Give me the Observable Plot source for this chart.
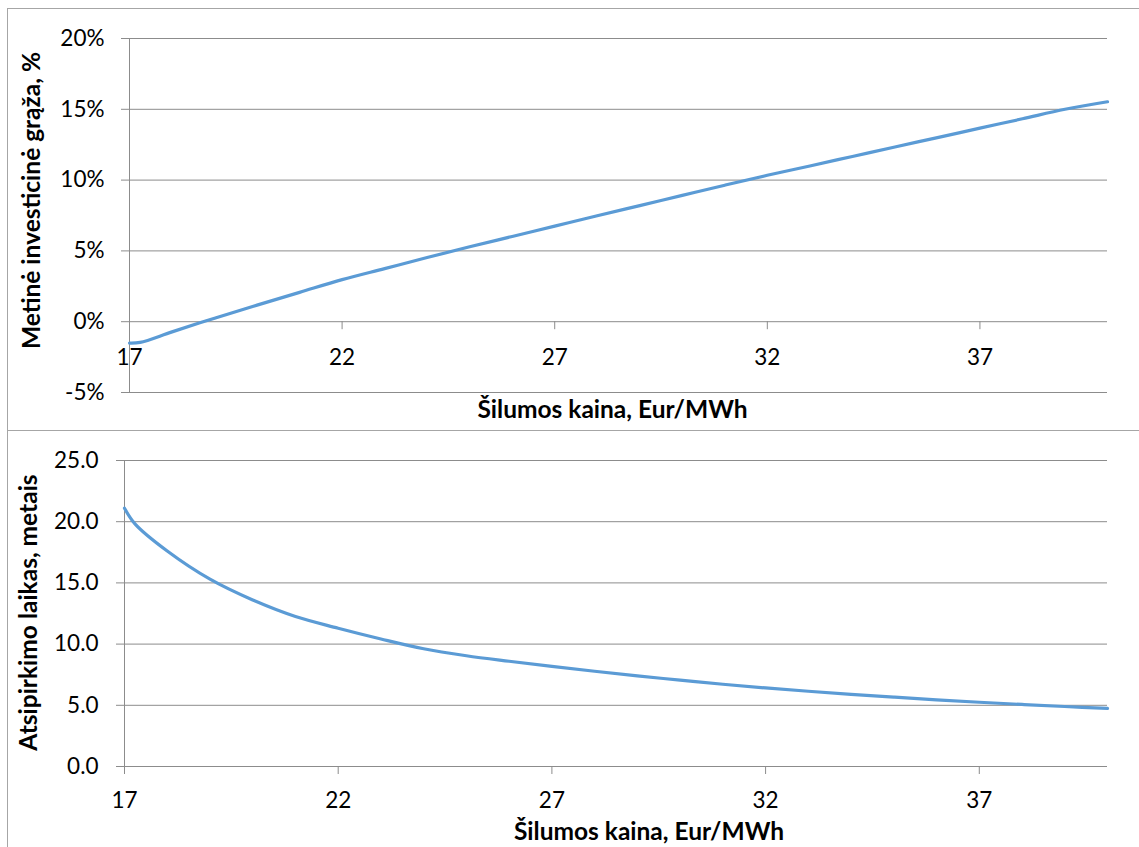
<!DOCTYPE html>
<html>
<head>
<meta charset="utf-8">
<script src="https://cdn.jsdelivr.net/npm/d3@7"></script>
<script src="https://cdn.jsdelivr.net/npm/@observablehq/plot@0.6"></script>
<style>
  body { margin: 0; background: #fff; }
  #page { position: relative; width: 1139px; height: 847px; overflow: hidden; background: #fff; font-family: Lato, "Open Sans", sans-serif; }
  .chart { position: absolute; left: 0; }
  .chart svg { background: transparent !important; }
  .panel { position: absolute; border: 1px solid #a6a6a6; box-sizing: border-box; pointer-events: none; }
</style>
</head>
<body>
<div id="page">
  <div id="irrChart" class="chart" style="top:0px"></div>
  <div id="paybackChart" class="chart" style="top:430px"></div>
  <div class="panel" style="left:7px; top:8px; width:1140px; height:423px"></div>
  <div class="panel" style="left:7px; top:430px; width:1140px; height:430px"></div>
</div>
<script>
// Heat price, Eur/MWh
const price = [17, 17.25, 18, 19, 20, 21, 22, 23, 24, 25, 26, 27, 28, 29, 30, 31, 32, 33, 34, 35, 36, 37, 38, 39, 40];
// Annual investment return, %
const annualReturn = [-1.51, -1.46, -0.72, 0.25, 1.17, 2.07, 2.97, 3.75, 4.53, 5.29, 6.02, 6.75, 7.48, 8.2, 8.92, 9.64, 10.34, 11.0, 11.67, 12.34, 13.0, 13.67, 14.33, 15.0, 15.53];
// Payback period, years
const payback = [21.1, 19.8, 17.6, 15.3, 13.6, 12.25, 11.3, 10.42, 9.62, 9.05, 8.6, 8.18, 7.78, 7.4, 7.06, 6.72, 6.42, 6.15, 5.9, 5.67, 5.45, 5.25, 5.07, 4.9, 4.75];

const xTicks = [17, 22, 27, 32, 37];
const returnTicks = [-5, 0, 5, 10, 15, 20];
const paybackTicks = [0, 5, 10, 15, 20, 25];

const xTitle = "Šilumos kaina, Eur/MWh";
const returnTitle = "Metinė investicinė grąža, %";
const paybackTitle = "Atsipirkimo laikas, metais";

const lineColor = "#5b9bd5";
const gridColor = "#8c8c8c";
const font = "Lato, 'Open Sans', sans-serif";

const returnRows = price.map((p, i) => ({price: p, value: annualReturn[i]}));
const paybackRows = price.map((p, i) => ({price: p, value: payback[i]}));

function panel({rows, yDomain, yTicks, yFormat, yTitle, height, margin, tickLabelDy, tickLabelDx, xTitleDx, xTitleDy, yTitleDx, yTitleDy, xAxisAt}) {
  return Plot.plot({
    width: 1139,
    height,
    marginLeft: margin.left,
    marginRight: margin.right,
    marginTop: margin.top,
    marginBottom: margin.bottom,
    style: {fontFamily: font, fontSize: "22px", color: "#000", background: "transparent"},
    x: {domain: [17, 40], axis: null},
    y: {domain: yDomain, axis: null},
    marks: [
      // horizontal gridlines, extended left as tick marks
      Plot.ruleY(yTicks, {stroke: gridColor, strokeWidth: 1, insetLeft: -8}),
      // vertical axis line
      Plot.ruleX([17], {stroke: gridColor, strokeWidth: 1}),
      // category axis tick marks on the zero line
      Plot.ruleX(xTicks, {x: d => d, y1: xAxisAt, y2: xAxisAt, insetBottom: -8, stroke: gridColor, strokeWidth: 1}),
      // value labels
      Plot.text(yTicks, {x: 17, y: d => d, text: yFormat, dx: tickLabelDx, textAnchor: "end", lineAnchor: "middle", fontSize: 22.5, fill: "#000"}),
      // category labels
      Plot.text(xTicks, {x: d => d, y: xAxisAt, text: d => String(d), dy: tickLabelDy, lineAnchor: "middle", fontSize: 22.5, fill: "#000"}),
      // data series
      Plot.line(rows, {x: "price", y: "value", stroke: lineColor, strokeWidth: 3.2, curve: "catmull-rom"}),
      // axis titles
      Plot.text([xTitle], {frameAnchor: "bottom", textAnchor: "middle", lineAnchor: "middle", dx: xTitleDx, dy: xTitleDy, fontWeight: "bold", fontSize: 24.5, fill: "#000"}),
      Plot.text([yTitle], {frameAnchor: "left", textAnchor: "middle", lineAnchor: "middle", rotate: -90, dx: yTitleDx, dy: yTitleDy, fontWeight: "bold", fontSize: 24.5, fill: "#000"})
    ]
  });
}

document.getElementById("irrChart").append(panel({
  rows: returnRows,
  yDomain: [-5, 20],
  yTicks: returnTicks,
  yFormat: d => d + "%",
  yTitle: returnTitle,
  height: 430,
  margin: {left: 129, right: 32, top: 38, bottom: 38},
  tickLabelDy: 36,
  tickLabelDx: -25,
  xTitleDx: -6,
  xTitleDy: 18,
  yTitleDx: -97,
  yTitleDy: -15,
  xAxisAt: 0
}));

document.getElementById("paybackChart").append(panel({
  rows: paybackRows,
  yDomain: [0, 25],
  yTicks: paybackTicks,
  yFormat: d => d.toFixed(1),
  yTitle: paybackTitle,
  height: 417,
  margin: {left: 124, right: 32, top: 30, bottom: 81},
  tickLabelDy: 34,
  tickLabelDx: -26,
  xTitleDx: 33,
  xTitleDy: 66,
  yTitleDx: -95,
  yTitleDy: -1,
  xAxisAt: 0
}));
</script>
</body>
</html>
